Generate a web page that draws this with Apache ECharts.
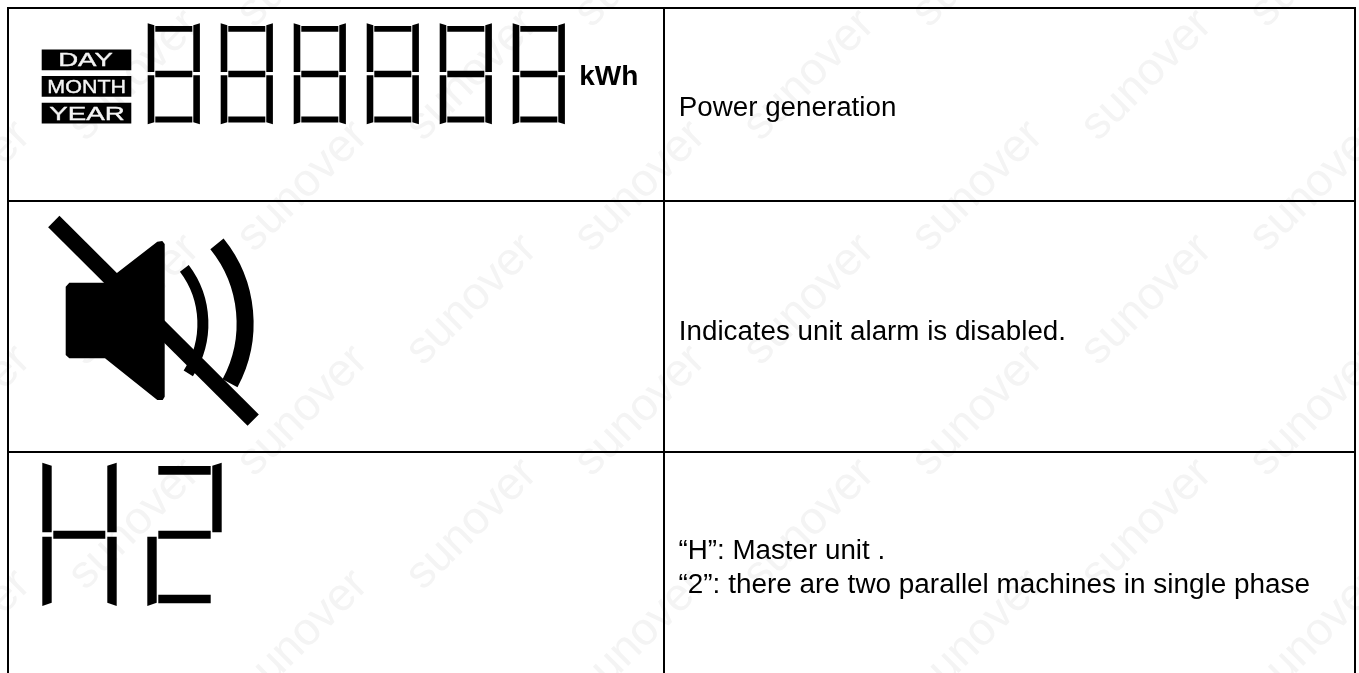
<!DOCTYPE html>
<html>
<head>
<meta charset="utf-8">
<style>html,body{margin:0;padding:0;background:#fff}#c{width:1359px;height:673px}</style>
<script src="https://cdn.jsdelivr.net/npm/echarts@6/dist/echarts.min.js"></script>
</head>
<body>
<div id="c"></div>
<script>
const periodLabels = ['DAY', 'MONTH', 'YEAR'];
const unitLabel = 'kWh';
const powerDescription = ['Power generation'];
const alarmDescription = ['Indicates unit alarm is disabled.'];
const parallelDescription = ['\u201CH\u201D: Master unit .', '\u201C2\u201D: there are two parallel machines in single phase'];
const watermarkWord = 'sunover';

const INK = '#000';
const FONT = '"Liberation Sans", Arial, sans-serif';
const els = [];

// watermark lattice
for (let k = -1; k < 5; k++) {
  for (let j = -1; j < 4; j++) {
    [[303, 186.5], [134.5, 75.5]].forEach(function (o) {
      els.push({
        type: 'text', x: o[0] + 337.5 * k, y: o[1] + 224.5 * j, rotation: Math.PI / 4, z: 0,
        style: { text: watermarkWord, font: '46px ' + FONT, fill: '#f4f4f4', align: 'center', verticalAlign: 'middle' }
      });
    });
  }
}

// table rules
function rule(x1, y1, x2, y2) {
  els.push({ type: 'line', z: 5, shape: { x1: x1, y1: y1, x2: x2, y2: y2 }, style: { stroke: INK, lineWidth: 2 } });
}
rule(7, 8, 1356, 8); rule(7, 201, 1356, 201); rule(7, 452, 1356, 452);
rule(8, 7, 8, 673); rule(664, 7, 664, 673); rule(1355, 7, 1355, 673);

function poly(points) {
  els.push({ type: 'polygon', z: 6, shape: { points: points }, style: { fill: INK } });
}
function rect(x, y, w, h) {
  els.push({ type: 'rect', z: 6, shape: { x: x, y: y, width: w, height: h }, style: { fill: INK } });
}
// baseline is the y of the text's baseline; the renderer positions from the line top
function label(text, x, baseline, size, weight, fill, align, scaleX, strokeWidth) {
  els.push({ type: 'text', x: x, y: baseline - size * 0.795, z: 8, scaleX: scaleX || 1,
    style: { text: text, font: weight + ' ' + size + 'px ' + FONT, fill: fill, align: align || 'left', verticalAlign: 'top',
      stroke: strokeWidth ? fill : null, lineWidth: strokeWidth || 0 } });
}

function stick(x, top, bottom, w, slantTop, slantBottom, side) {
  const xl = x, xr = x + w;
  const longX = side > 0 ? xl : xr, shortX = side > 0 ? xr : xl;
  poly([[longX, top], [shortX, top + slantTop], [shortX, bottom - slantBottom], [longX, bottom]]);
}

// power-generation readout
for (let d = 0; d < 6; d++) {
  const x = 147.7 + 73 * d;
  stick(x, 23.3, 72, 6.6, 2, 0, 1);
  stick(x + 45.6, 23.3, 72, 6.6, 2, 0, -1);
  stick(x, 75.3, 124.3, 6.6, 0, 2, 1);
  stick(x + 45.6, 75.3, 124.3, 6.6, 0, 2, -1);
  rect(x + 7.6, 26, 37, 5.8);
  rect(x + 7.6, 70.8, 37, 6.4);
  rect(x + 7.6, 116.4, 37, 6.2);
}
[[49.5, 66.7, 1.45], [76, 93.2, 1.13], [102.7, 120, 1.46]].forEach(function (b, i) {
  rect(41.7, b[0], 89.6, 20.8);
  label(periodLabels[i], [85.5, 86.7, 87][i], b[1], 19, 'normal', '#f4f4f4', 'center', b[2], 0.4);
});
label(unitLabel, 579.3, 85.7, 28, 'bold', INK);

// muted-speaker icon
poly([[65.7, 286.7], [69.3, 282.7], [104.3, 282.7], [157.3, 241.7], [162.3, 241], [164.7, 244],
      [164.7, 396.7], [162.7, 400], [157.3, 400], [105, 358.3], [69.3, 358.3], [65.7, 355]]);
els.push({ type: 'line', z: 6, shape: { x1: 53.8, y1: 221.5, x2: 253.2, y2: 420.2 }, style: { stroke: INK, lineWidth: 16 } });
els.push({ type: 'arc', z: 6, shape: { cx: 111.2, cy: 323.7, r: 91.7, startAngle: -37.1 * Math.PI / 180, endAngle: 32.8 * Math.PI / 180, clockwise: true }, style: { stroke: INK, lineWidth: 11, fill: null } });
els.push({ type: 'arc', z: 6, shape: { cx: 118.8, cy: 323.4, r: 126.3, startAngle: -39 * Math.PI / 180, endAngle: 28.3 * Math.PI / 180, clockwise: true }, style: { stroke: INK, lineWidth: 17, fill: null } });

// H2 readout
const S = 9.4;
stick(42.3, 462.7, 532.3, S, 3, 0, 1);
stick(107.3, 462.7, 532.3, S, 3, 0, -1);
stick(42.3, 536.7, 606, S, 0, 3.3, 1);
stick(107.3, 536.7, 606, S, 0, 3.3, -1);
rect(53.3, 530.7, 52, 8);
rect(158.3, 466, 52.4, 8.7);
stick(212.3, 462.7, 532.3, S, 3, 0, -1);
rect(158.3, 530.7, 52.4, 8);
stick(147.3, 536.7, 606, S, 0, 3.3, 1);
rect(158.3, 594.7, 52.4, 8.6);

// descriptions
const BODY = 27.75;
label(powerDescription[0], 678.8, 116.7, BODY, 'normal', INK);
label(alarmDescription[0], 678.8, 340, BODY, 'normal', INK);
label(parallelDescription[0], 678.5, 559, BODY, 'normal', INK);
label(parallelDescription[1], 678.5, 593.7, BODY, 'normal', INK, 'left', 1.006);

const chart = echarts.init(document.getElementById('c'), null, { renderer: 'canvas' });
chart.setOption({ animation: false, backgroundColor: '#fff', graphic: { elements: els } });
</script>
</body>
</html>
